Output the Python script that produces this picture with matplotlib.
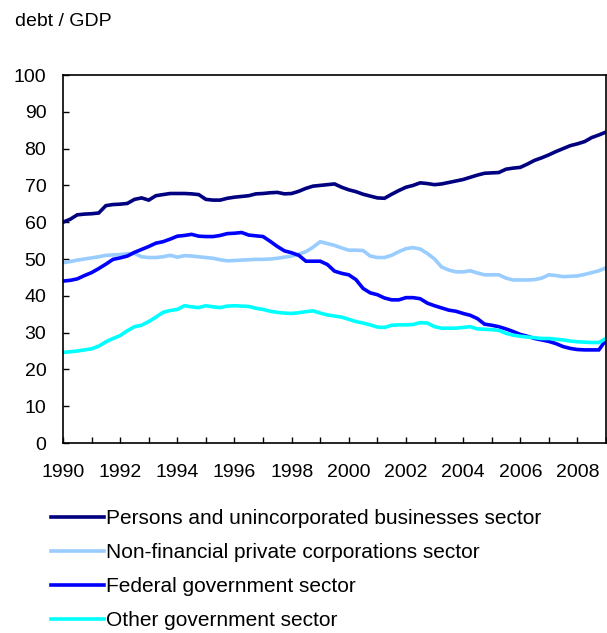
import numpy as np
import matplotlib
matplotlib.use("Agg")
import matplotlib.pyplot as plt

plt.rcParams['font.family'] = ['Liberation Sans', 'DejaVu Sans']

start_year = 1990
persons = [60.0, 60.8, 62.0, 62.2,
           62.3, 62.5, 64.5, 64.8,
           64.9, 65.1, 66.2, 66.6,
           66.0, 67.2, 67.5, 67.8,
           67.8, 67.8, 67.7, 67.5,
           66.2, 66.0, 66.0, 66.5,
           66.8, 67.0, 67.2, 67.7,
           67.8, 68.0, 68.1, 67.7,
           67.8, 68.4, 69.2, 69.8,
           70.0, 70.2, 70.4, 69.5,
           68.8, 68.3, 67.6, 67.1,
           66.6, 66.5, 67.6, 68.6,
           69.5, 70.0, 70.7, 70.5,
           70.2, 70.4, 70.8, 71.2,
           71.6, 72.2, 72.8, 73.3,
           73.4, 73.5, 74.4, 74.7,
           74.9, 75.8, 76.8, 77.5,
           78.3, 79.2, 80.0, 80.8,
           81.3, 81.9, 83.0, 83.7,
           84.5]
nonfin = [49.0, 49.3, 49.7, 50.0,
          50.3, 50.6, 51.0, 51.1,
          51.2, 51.4, 51.5, 50.6,
          50.4, 50.4, 50.6, 51.0,
          50.5, 50.9, 50.8, 50.6,
          50.4, 50.2, 49.8, 49.5,
          49.6, 49.7, 49.8, 49.9,
          49.9, 50.0, 50.2, 50.5,
          50.8, 51.3, 52.0, 53.2,
          54.7, 54.2, 53.7, 53.0,
          52.4, 52.4, 52.3, 50.8,
          50.4, 50.4, 51.0, 52.0,
          52.8, 53.1, 52.7, 51.5,
          50.0, 47.8, 47.0, 46.5,
          46.5, 46.8, 46.2, 45.7,
          45.7, 45.7, 44.8, 44.3,
          44.3, 44.3, 44.4, 44.8,
          45.7, 45.5, 45.2, 45.3,
          45.4, 45.8, 46.3, 46.8,
          47.6]
federal = [44.0, 44.2, 44.6, 45.5,
           46.3, 47.4, 48.6, 49.9,
           50.3, 50.8, 51.8, 52.6,
           53.4, 54.3, 54.7, 55.4,
           56.2, 56.4, 56.7, 56.2,
           56.1, 56.1, 56.4, 56.9,
           57.0, 57.2, 56.5, 56.3,
           56.1, 54.8, 53.4, 52.2,
           51.7, 51.0, 49.4, 49.4,
           49.4, 48.5, 46.7, 46.1,
           45.7, 44.4, 42.0, 40.8,
           40.3, 39.4, 38.9, 38.9,
           39.5, 39.5, 39.2, 38.0,
           37.3, 36.7, 36.1, 35.8,
           35.2, 34.7, 33.8, 32.3,
           32.0, 31.6, 31.0, 30.3,
           29.5, 29.0, 28.4, 28.0,
           27.6, 27.0, 26.2, 25.7,
           25.4, 25.3, 25.3, 25.3,
           28.0]
other = [24.6, 24.8, 25.0, 25.3,
         25.6, 26.3, 27.5, 28.4,
         29.2, 30.5, 31.6, 32.0,
         33.0, 34.2, 35.5, 36.0,
         36.3, 37.3, 37.0, 36.8,
         37.3, 37.0, 36.8, 37.2,
         37.3, 37.2, 37.1, 36.6,
         36.3, 35.8, 35.5, 35.3,
         35.2, 35.4, 35.7, 35.9,
         35.3, 34.8, 34.5, 34.2,
         33.6, 33.0, 32.6, 32.1,
         31.5, 31.4, 32.0, 32.1,
         32.1, 32.2, 32.7, 32.6,
         31.6, 31.2, 31.2, 31.2,
         31.4, 31.6, 31.0, 30.9,
         30.8, 30.6, 29.8, 29.3,
         29.0, 28.8, 28.6, 28.4,
         28.4, 28.2, 28.0, 27.7,
         27.5, 27.4, 27.3, 27.3,
         28.4]

labels = ["Persons and unincorporated businesses sector",
          "Non-financial private corporations sector",
          "Federal government sector",
          "Other government sector"]
colors = ["#000080", "#99CCFF", "#0000FF", "#00FFFF"]
series = [persons, nonfin, federal, other]

years = list(range(1990, 2010))
year_labels = [str(y) if y % 2 == 0 else "" for y in years]
y_ticks = list(range(0, 101, 10))

t = start_year + np.arange(len(persons)) / 4.0

fig = plt.figure(figsize=(6.07, 6.33), dpi=100)
ax = fig.add_axes([63/607, (633-443)/633, (606-63)/607, (443-75)/633])

handles = []
for vals, c, lab in zip(series, colors, labels):
    h, = ax.plot(t, vals, color=c, lw=2.6, solid_joinstyle='miter', label=lab)
    handles.append(h)

ax.set_xlim(1990, 2009)
ax.set_ylim(0, 100)
ax.set_xticks(years)
ax.set_xticklabels(year_labels)
ax.set_yticks(y_ticks)
ax.tick_params(axis='both', direction='in', length=4, width=1, labelsize=14, colors='black')
ax.tick_params(axis='y', pad=12)
ax.tick_params(axis='x', pad=15)
for s in ax.spines.values():
    s.set_linewidth(1.2)
    s.set_color('black')

fig.text(15/607, 1-22/633, "debt / GDP", fontsize=14, ha='left', va='center')

fig.legend(handles=handles, labels=labels, loc='upper left',
           bbox_to_anchor=(51/607, 1-509/633), frameon=False,
           fontsize=15, handlelength=2.55, handletextpad=0.1,
           labelspacing=0.72, borderpad=0, borderaxespad=0)

fig.savefig("out.png", dpi=100)
